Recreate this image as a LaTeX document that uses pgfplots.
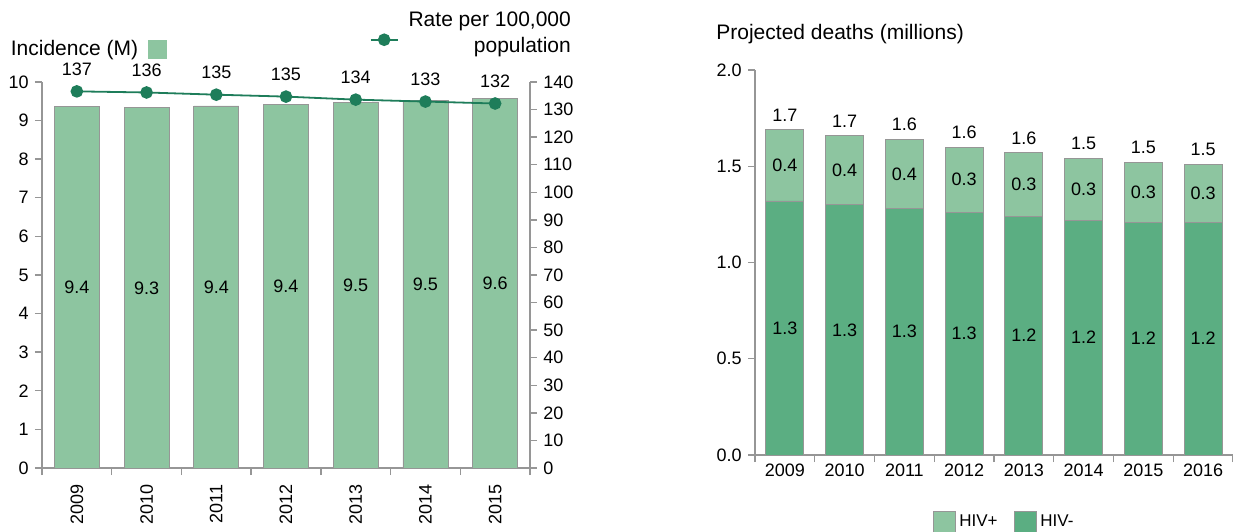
\documentclass[border=0pt]{standalone}
\usepackage{pgfplots}
\pgfplotsset{compat=1.18}
\usepackage{pgfplotstable}
\usepackage{fontspec}
\setmainfont{Liberation Sans}
\definecolor{lightg}{RGB}{141,197,160}
\definecolor{darkg}{RGB}{91,174,130}
\definecolor{lineg}{RGB}{30,125,90}
\definecolor{axg}{RGB}{150,150,150}
\definecolor{barout}{RGB}{150,150,150}

\pgfplotstableread{
x inc rate
0 9.36 136.6
1 9.33 136.2
2 9.38 135.4
3 9.42 134.7
4 9.46 133.6
5 9.53 132.9
6 9.58 132.2
}\lefttab

\pgfplotstableread{
x neg pos
0 1.32 0.37
1 1.30 0.36
2 1.28 0.36
3 1.26 0.34
4 1.24 0.33
5 1.22 0.32
6 1.21 0.31
7 1.21 0.30
}\righttab

\pgfplotsset{
 common/.style={
  scale only axis,
  /pgf/number format/assume math mode=true,
  axis line style={draw=axg, line width=0.7bp},
  tick style={draw=axg, line width=0.7bp},
  tick align=outside,
  major tick length=3.5bp,
  ticklabel style={font=\fontsize{9bp}{10bp}\selectfont},
  clip=false,
 },
 lbl/.style={forget plot, draw=none, mark=none, point meta=explicit,
   nodes near coords={\pgfmathprintnumber[fixed,precision=1]{\pgfplotspointmeta}},
   nodes near coords style={font=\fontsize{9bp}{10bp}\selectfont, text=black}},
}
\begin{document}
\fontsize{9bp}{11bp}\selectfont
\begin{tikzpicture}
\useasboundingbox (0,0) rectangle (616.5bp,266bp);
% ---------- left chart: bars ----------
\begin{axis}[common,
  at={(21bp,32bp)}, anchor=south west,
  width=244bp, height=193bp,
  xmin=-0.5, xmax=6.5, ymin=0, ymax=10,
  axis x line*=bottom, axis y line*=left,
  xtick={-0.5,0.5,...,6.5}, xticklabels={},
  extra x ticks={0,1,2,3,4,5,6},
  extra x tick labels={2009,2010,2011,2012,2013,2014,2015},
  extra x tick style={major tick length=0pt},
  xticklabel style={rotate=90, anchor=east, xshift=-5bp},
  ytick={0,1,...,10},
  legend style={at={(-0.085,1.085)}, anchor=west, draw=none, fill=none,
    font=\fontsize{10.5bp}{12bp}\selectfont, column sep=3bp},
  legend plot pos=right,
]
\addplot[ybar, bar width=22.5bp, bar shift=0pt, fill=lightg, draw=barout,
  legend image code/.code={\fill[lightg] (0bp,-4.5bp) rectangle (9bp,4.5bp);}]
  table[x=x,y=inc]{\lefttab};
\addlegendentry{Incidence (M)}
\addplot[lbl, nodes near coords style={anchor=center}]
  table[x=x, y expr=\thisrow{inc}/2, meta=inc]{\lefttab};
\end{axis}
% ---------- left chart: rate line ----------
\begin{axis}[common,
  at={(21bp,32bp)}, anchor=south west,
  width=244bp, height=193bp,
  xmin=-0.5, xmax=6.5, ymin=0, ymax=140,
  axis x line=none, axis y line*=right,
  ytick={0,10,...,140},
  legend style={at={(1.105,1.125)}, anchor=east, draw=none, fill=none,
    font=\fontsize{10.5bp}{13bp}\selectfont, cells={align=right}, column sep=3bp},
]
\addplot[lineg, line width=0.9bp, mark=*, mark size=2.7bp, mark options={fill=lineg, draw=lineg},
  nodes near coords={\pgfmathprintnumber[fixed,precision=0]{\pgfplotspointmeta}},
  point meta=y,
  nodes near coords style={anchor=south, yshift=4.5bp, text=black, font=\fontsize{9bp}{10bp}\selectfont},
  legend image code/.code={\draw[lineg, line width=0.9bp] (0bp,-3bp) -- (13.5bp,-3bp);
     \fill[lineg] (6.75bp,-3bp) circle (2.7bp);}]
  table[x=x,y=rate]{\lefttab};
\addlegendentry{Rate per 100,000\\population}
\end{axis}
% ---------- right chart ----------
\node[anchor=west, font=\fontsize{10.5bp}{12bp}\selectfont] at (355bp,249bp) {Projected deaths (millions)};
\begin{axis}[common,
  at={(377.5bp,38.5bp)}, anchor=south west,
  width=239bp, height=192.5bp,
  xmin=-0.5, xmax=7.5, ymin=0, ymax=2,
  axis x line*=bottom, axis y line*=left,
  xtick={-0.5,0.5,...,7.5}, xticklabels={},
  extra x ticks={0,1,2,3,4,5,6,7},
  extra x tick labels={2009,2010,2011,2012,2013,2014,2015,2016},
  extra x tick style={major tick length=0pt},
  xticklabel style={yshift=-1.5bp},
  ytick={0,0.5,...,2},
  yticklabel style={/pgf/number format/.cd, fixed, fixed zerofill, precision=1, /tikz/.cd},
  legend style={at={(0.523,-0.174)}, anchor=center, draw=none, fill=none, legend columns=2,
    font=\fontsize{8.5bp}{10bp}\selectfont, /tikz/every even column/.append style={column sep=6bp}},
]
\addplot[ybar, bar width=19bp, bar shift=0pt, fill=lightg, draw=barout,
  legend image code/.code={\draw[fill=lightg, draw=barout] (0bp,-5.5bp) rectangle (11bp,5.5bp);}]
  table[x=x, y expr=\thisrow{neg}+\thisrow{pos}]{\righttab};
\addlegendentry{HIV+}
\addplot[ybar, bar width=19bp, bar shift=0pt, fill=darkg, draw=barout,
  legend image code/.code={\draw[fill=darkg, draw=barout] (0bp,-5.5bp) rectangle (11bp,5.5bp);}]
  table[x=x, y=neg]{\righttab};
\addlegendentry{HIV-}
\addplot[lbl, nodes near coords style={anchor=center}]
  table[x=x, y expr=\thisrow{neg}/2, meta=neg]{\righttab};
\addplot[lbl, nodes near coords style={anchor=center}]
  table[x=x, y expr=\thisrow{neg}+\thisrow{pos}/2, meta=pos]{\righttab};
\addplot[lbl, nodes near coords style={anchor=south, yshift=1bp}]
  table[x=x, y expr=\thisrow{neg}+\thisrow{pos}, meta expr=\thisrow{neg}+\thisrow{pos}]{\righttab};
\end{axis}
\end{tikzpicture}
\end{document}
